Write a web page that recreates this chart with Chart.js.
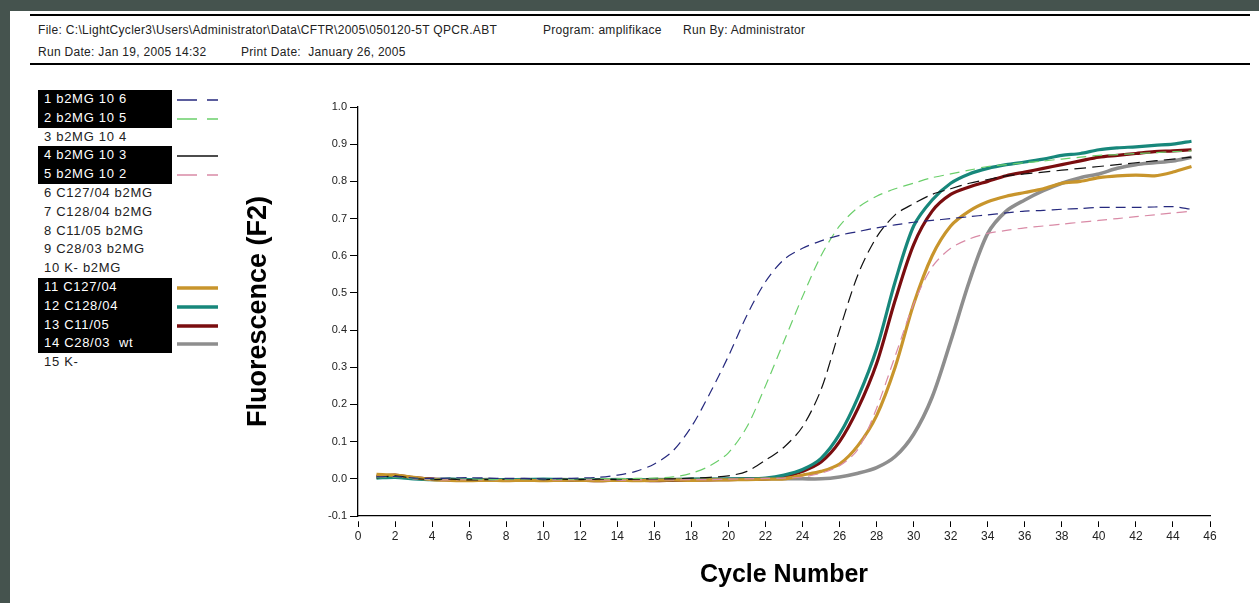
<!DOCTYPE html>
<html>
<head>
<meta charset="utf-8">
<script src="https://cdn.jsdelivr.net/npm/chart.js@4"></script>
<style>
  body { margin: 0; background: #45534e; width: 1259px; height: 603px; overflow: hidden; font-family: Arial, "Liberation Sans", sans-serif; }
  #sheet { position: absolute; left: 10px; top: 11px; width: 1249px; height: 592px; background: #fff; }
  .rule { position: absolute; left: 30px; width: 1220px; height: 2px; background: #000; }
  .hdr { position: absolute; font-size: 12px; letter-spacing: 0.3px; color: #222; white-space: pre; }
  #legend { position: absolute; left: 38px; top: 90px; }
  .row { position: relative; height: 18.8px; line-height: 18.8px; font-size: 13px; letter-spacing: 0.7px; color: #222; padding-left: 6px; width: 128px; white-space: pre; }
  .row.sel { background: #000; color: #fff; }
  .row svg { position: absolute; left: 139px; top: 0; }
  #wrap { position: absolute; left: 240px; top: 80px; width: 1000px; height: 523px; }
</style>
</head>
<body>
<div id="sheet"></div>
<div class="rule" style="top:14px"></div>
<div class="rule" style="top:63px"></div>
<div class="hdr" style="left:38px;top:23px">File: C:\LightCycler3\Users\Administrator\Data\CFTR\2005\050120-5T QPCR.ABT</div>
<div class="hdr" style="left:543px;top:23px">Program: amplifikace</div>
<div class="hdr" style="left:683px;top:23px">Run By: Administrator</div>
<div class="hdr" style="left:38px;top:45px">Run Date: Jan 19, 2005 14:32</div>
<div class="hdr" style="left:241px;top:45px">Print Date:  January 26, 2005</div>
<div id="legend"></div>
<div id="wrap"><canvas id="qpcr"></canvas></div>
<script>
// cycle numbers
const cycles = [1,2,3,4,5,6,7,8,9,10,11,12,13,14,15,16,17,18,19,20,21,22,23,24,25,26,27,28,29,30,31,32,33,34,35,36,37,38,39,40,41,42,43,44,45];

// fluorescence F2 per sample
const b2mg106 = [0.005,0.006,0.002,0.001,0.002,0.003,0.002,0.001,0.001,0.0,0.001,0.002,0.004,0.01,0.02,0.04,0.075,0.14,0.23,0.33,0.44,0.53,0.59,0.62,0.64,0.655,0.665,0.675,0.683,0.69,0.695,0.7,0.705,0.71,0.715,0.72,0.722,0.725,0.727,0.73,0.73,0.73,0.731,0.732,0.725];
const b2mg105 = [0.003,0.004,0.001,0.0,0.001,0.0,-0.002,-0.001,0.0,0.0,-0.001,0.0,0.001,0.0,0.001,0.002,0.005,0.015,0.035,0.07,0.14,0.25,0.37,0.49,0.6,0.68,0.73,0.76,0.78,0.795,0.81,0.82,0.83,0.84,0.845,0.85,0.855,0.86,0.865,0.87,0.872,0.875,0.877,0.88,0.882];
const b2mg103 = [0.002,0.008,0.001,-0.002,-0.001,-0.003,-0.002,-0.001,0.0,-0.002,-0.001,-0.002,-0.001,-0.002,-0.001,0.0,0.0,0.002,0.004,0.008,0.02,0.05,0.085,0.14,0.24,0.4,0.55,0.65,0.71,0.74,0.765,0.78,0.795,0.805,0.815,0.82,0.825,0.83,0.835,0.84,0.845,0.85,0.855,0.86,0.865];
const b2mg102 = [0.004,0.006,0.0,-0.002,-0.003,-0.002,-0.003,-0.002,-0.001,-0.002,-0.003,-0.002,-0.003,-0.004,-0.003,-0.002,-0.003,-0.002,-0.002,-0.001,0.0,0.001,0.002,0.005,0.015,0.035,0.08,0.19,0.33,0.47,0.57,0.62,0.645,0.66,0.668,0.675,0.68,0.685,0.69,0.695,0.7,0.705,0.71,0.715,0.72];
const c12704 = [0.012,0.01,0.004,-0.002,-0.004,-0.005,-0.004,-0.005,-0.004,-0.005,-0.004,-0.004,-0.005,-0.004,-0.005,-0.004,-0.003,-0.004,-0.003,-0.003,-0.002,-0.001,0.0,0.01,0.02,0.04,0.09,0.17,0.3,0.47,0.6,0.68,0.72,0.745,0.76,0.77,0.78,0.795,0.8,0.81,0.815,0.817,0.815,0.825,0.84];
const c12804 = [0.002,0.004,0.0,-0.002,-0.001,-0.002,-0.003,-0.002,-0.002,-0.001,-0.002,-0.002,-0.003,-0.002,-0.003,-0.002,-0.002,-0.001,-0.001,0.0,0.0,0.002,0.01,0.025,0.055,0.12,0.22,0.35,0.53,0.68,0.75,0.795,0.82,0.835,0.845,0.852,0.86,0.87,0.875,0.885,0.89,0.893,0.897,0.9,0.908];
const c1105 = [0.006,0.01,0.003,-0.001,-0.003,-0.004,-0.003,-0.004,-0.003,-0.004,-0.003,-0.004,-0.005,-0.004,-0.004,-0.005,-0.004,-0.003,-0.003,-0.002,-0.001,0.0,0.005,0.02,0.045,0.1,0.19,0.31,0.48,0.63,0.72,0.765,0.785,0.8,0.815,0.825,0.835,0.845,0.855,0.865,0.87,0.875,0.88,0.882,0.885];
const c2803wt = [0.008,0.006,0.002,-0.001,-0.002,-0.003,-0.002,-0.003,-0.002,-0.003,-0.002,-0.003,-0.003,-0.002,-0.003,-0.002,-0.002,-0.002,-0.001,-0.001,0.0,0.0,0.0,0.0,0.0,0.005,0.015,0.03,0.06,0.12,0.22,0.37,0.53,0.66,0.72,0.75,0.775,0.795,0.81,0.82,0.835,0.845,0.85,0.855,0.865];

const sampleNames = ['1 b2MG 10 6','2 b2MG 10 5','3 b2MG 10 4','4 b2MG 10 3','5 b2MG 10 2','6 C127/04 b2MG','7 C128/04 b2MG','8 C11/05 b2MG','9 C28/03 b2MG','10 K- b2MG','11 C127/04','12 C128/04','13 C11/05','14 C28/03  wt','15 K-'];

const yTicks = [-0.1,0.0,0.1,0.2,0.3,0.4,0.5,0.6,0.7,0.8,0.9,1.0];

// selected samples: [legend index, values, colour, width, dash]
const plotted = [
  [0, b2mg106, '#26297e', 1.2, [10, 6]],
  [1, b2mg105, '#6bcf6b', 1.2, [10, 6]],
  [3, b2mg103, '#111111', 1.2, [12, 6]],
  [4, b2mg102, '#d98aa6', 1.2, [10, 6]],
  [10, c12704, '#c8952c', 3.2, []],
  [11, c12804, '#17877b', 3.2, []],
  [12, c1105, '#7a0d0f', 3.2, []],
  [13, c2803wt, '#8e8e8e', 3.6, []]
];

// legend (HTML)
const legend = document.getElementById('legend');
sampleNames.forEach((name, i) => {
  const row = document.createElement('div');
  row.className = 'row';
  row.textContent = name;
  const p = plotted.find(d => d[0] === i);
  if (p) {
    row.classList.add('sel');
    const svg = document.createElementNS('http://www.w3.org/2000/svg', 'svg');
    svg.setAttribute('width', 42);
    svg.setAttribute('height', 19);
    const ln = document.createElementNS('http://www.w3.org/2000/svg', 'line');
    ln.setAttribute('x1', 0); ln.setAttribute('x2', 41);
    ln.setAttribute('y1', 10); ln.setAttribute('y2', 10);
    ln.setAttribute('stroke', p[2]);
    ln.setAttribute('stroke-width', p[3] > 2 ? 3.5 : 1.3);
    if (p[4].length && i !== 3) ln.setAttribute('stroke-dasharray', '20 10');
    svg.appendChild(ln);
    row.appendChild(svg);
  }
  legend.appendChild(row);
});

const datasets = plotted.map(p => ({
  label: sampleNames[p[0]],
  data: cycles.map((c, k) => ({ x: c, y: p[1][k] })),
  borderColor: p[2],
  borderWidth: p[3],
  borderDash: p[4],
  pointRadius: 0,
  tension: 0.3,
  fill: false
}));

new Chart(document.getElementById('qpcr'), {
  type: 'line',
  data: { datasets: datasets },
  options: {
    responsive: true,
    maintainAspectRatio: false,
    animation: false,
    layout: { padding: { left: 0, right: 30, top: 27, bottom: 0 } },
    plugins: { legend: { display: false }, tooltip: { enabled: false } },
    scales: {
      x: {
        type: 'linear',
        min: 0,
        max: 46,
        afterFit: s => { s.height = 87; },
        ticks: { stepSize: 2, autoSkip: false, maxRotation: 0, color: '#222', padding: 2,
          font: { family: 'Liberation Sans Narrow, Arial', size: 12 } },
        grid: { drawOnChartArea: false, drawTicks: true, tickLength: 11, color: '#000', tickBorderDash: [0, 5, 6, 60] },
        border: { color: '#000', width: 1.3 },
        title: { display: true, text: 'Cycle Number', color: '#000', padding: { top: 0, bottom: 13 },
          font: { family: 'Arial', size: 25, weight: 'bold' } }
      },
      y: {
        min: -0.1,
        max: 1.0,
        afterFit: s => { s.width = 118; },
        afterBuildTicks: s => { s.ticks = yTicks.map(v => ({ value: v })); },
        ticks: { color: '#222', padding: 3, callback: v => (Math.abs(v) < 1e-9 ? 0 : v).toFixed(1),
          font: { family: 'Arial', size: 11 } },
        grid: { drawOnChartArea: false, drawTicks: true, tickLength: 8, color: '#000' },
        border: { color: '#000', width: 1.3 },
        title: { display: true, text: 'Fluorescence (F2)', color: '#000', padding: { top: 2, bottom: 0 },
          font: { family: 'Arial', size: 27, weight: 'bold' } }
      }
    }
  }
});
</script>
</body>
</html>
